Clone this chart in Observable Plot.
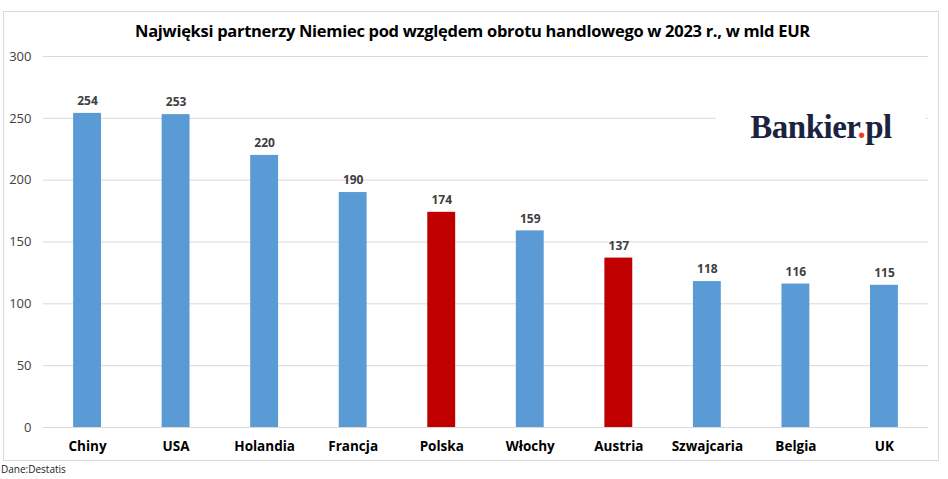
<!DOCTYPE html>
<html>
<head>
<meta charset="utf-8">
<script src="https://cdn.jsdelivr.net/npm/d3@7"></script>
<script src="https://cdn.jsdelivr.net/npm/@observablehq/plot@0.6"></script>
<style>
  body { margin: 0; background: #fff; font-family: "Open Sans", sans-serif; }
  #wrap { position: relative; width: 948px; height: 479px; overflow: hidden; }
  #frame { position: absolute; left: 3px; top: 11px; width: 936px; height: 450px; border: 1px solid #d9d9d9; box-sizing: border-box; }
  #title { position: absolute; left: 0; width: 945px; top: 19px; text-align: center; font-weight: bold; font-size: 16.5px; color: #000; letter-spacing: -0.3px; }
  #logo { position: absolute; left: 716px; top: 100px; width: 210px; height: 50px; background: #fff; text-align: center; font-family: "Liberation Serif", serif; font-weight: bold; font-size: 33px; color: #1a2340; line-height: 54px; letter-spacing: -0.5px; }
  #logo .dot { color: #e8401c; }
  #source { position: absolute; left: 1px; top: 462px; font-size: 10px; color: #222; }
  #chart { position: absolute; left: 0; top: 0; }
</style>
</head>
<body>
<div id="wrap">
  <div id="frame"></div>
  <div id="chart"></div>
  <div id="title">Najwięksi partnerzy Niemiec pod względem obrotu handlowego w 2023 r., w mld EUR</div>
  <div id="logo">Bankier<span class="dot">.</span>pl</div>
  <div id="source">Dane:Destatis</div>
</div>
<script>
const countries = ["Chiny", "USA", "Holandia", "Francja", "Polska", "Włochy", "Austria", "Szwajcaria", "Belgia", "UK"];
const values = [254, 253, 220, 190, 174, 159, 137, 118, 116, 115];
const highlighted = ["Polska", "Austria"];
const yTicks = [0, 50, 100, 150, 200, 250, 300];

const data = countries.map((c, i) => ({country: c, value: values[i], hl: highlighted.includes(c)}));

const chart = Plot.plot({
  width: 948,
  height: 479,
  marginTop: 56,
  marginBottom: 52,
  marginLeft: 43,
  marginRight: 20,
  style: {fontFamily: "Open Sans, sans-serif", background: "transparent"},
  x: {domain: countries, paddingInner: 0.685, paddingOuter: 0.34, round: false, label: null, tickSize: 0},
  y: {domain: [0, 300], ticks: yTicks, label: null, tickSize: 0},
  marks: [
    Plot.gridY(yTicks, {stroke: "#d9d9d9", strokeOpacity: 1, strokeWidth: 1}),
    Plot.barY(data, {x: "country", y: "value", fill: d => d.hl ? "#c00000" : "#5b9bd5"}),
    Plot.text(data, {x: "country", y: "value", text: d => String(d.value), dy: -12, fontWeight: "bold", fontSize: 12, fill: "#404040"}),
    Plot.axisY({ticks: yTicks, tickSize: 0, tickPadding: 12, fontSize: 13, fill: "#404040", label: null}),
    Plot.axisX({tickSize: 0, tickPadding: 14, fontSize: 13.5, fontWeight: "bold", fill: "#000", label: null})
  ]
});
document.getElementById("chart").appendChild(chart);
</script>
</body>
</html>
